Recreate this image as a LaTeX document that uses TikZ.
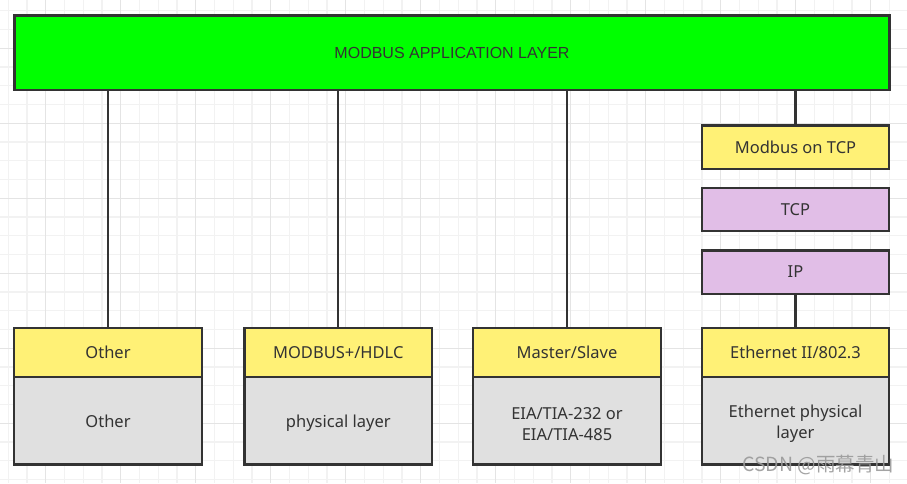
\documentclass[tikz,border=0pt]{standalone}
\usepackage{fontspec}
\setmainfont{Noto Sans}
\newfontfamily\arialf{Liberation Sans}
\newfontfamily\cjk{Noto Sans CJK SC}
\definecolor{ink}{HTML}{333333}
\definecolor{barGreen}{HTML}{00FF00}
\definecolor{layerYellow}{HTML}{FFF176}
\definecolor{layerPurple}{HTML}{E1BEE7}
\definecolor{layerGray}{HTML}{E0E0E0}
\definecolor{gridMinor}{HTML}{F2F2F2}
\definecolor{gridMajor}{HTML}{E4E4E4}
\definecolor{wmGray}{HTML}{9A9A9A}
\begin{document}
\begin{tikzpicture}[x=1pt,y=-1pt,
  box/.style={draw=ink, line width=2.3pt, text=ink, inner sep=0pt,
    minimum width=187.5pt, align=center,
    font=\fontsize{16.5}{21}\selectfont},
  hdr/.style={box, fill=layerYellow, minimum height=49.4pt},
  body/.style={box, fill=layerGray, minimum height=87.3pt},
  bodytext/.style={text=ink, inner sep=0pt, align=center,
    font=\fontsize{16.5}{21}\selectfont},
  stackbox/.style={box, minimum height=43.3pt},
  link/.style={draw=ink, line width=2.3pt},
  gminor/.style={draw=gridMinor, line width=1.2pt},
  gmajor/.style={draw=gridMajor, line width=1.2pt}]
\useasboundingbox (0,0) rectangle (907,483);
\fill[white] (0,0) rectangle (907,483);
% grid
\foreach \i in {0,...,48} {\draw[gminor] ({8.2+18.75*\i},0) -- ({8.2+18.75*\i},483);}
\foreach \i in {0,...,25} {\draw[gminor] (0,{10.8+18.75*\i}) -- (907,{10.8+18.75*\i});}
\foreach \i in {0,...,11} {\draw[gmajor] ({45.7+75*\i},0) -- ({45.7+75*\i},483);}
\foreach \i in {0,...,5} {\draw[gmajor] (0,{48.3+75*\i}) -- (907,{48.3+75*\i});}
% application layer
\node[box, fill=barGreen, minimum width=875pt, minimum height=74.8pt,
  font=\arialf\fontsize{16}{20}\selectfont] (app) at (452,52.9) {MODBUS APPLICATION LAYER};
% TCP stack
\node[stackbox, fill=layerYellow] (mtcp) at (795.5,147.2) {Modbus on TCP};
\node[stackbox, fill=layerPurple] (tcp) at (795.5,209.5) {TCP};
\node[stackbox, fill=layerPurple] (ip) at (795.5,272) {IP};
% bottom columns
\node[body] (b1) at (108,420.85) {};
\node[bodytext] (t1) at (b1.center) {Other};
\node[hdr] (h1) at (108,352.5) {Other};
\node[body] (b2) at (338.3,420.85) {};
\node[bodytext, yshift=-2pt] (t2) at (b2.center) {physical layer};
\node[hdr] (h2) at (338.3,352.5) {MODBUS+/HDLC};
\node[body] (b3) at (567,420.85) {};
\node[bodytext, yshift=-3pt] (t3) at (b3.center) {EIA/TIA-232 or\\EIA/TIA-485};
\node[hdr] (h3) at (567,352.5) {Master/Slave};
\node[body] (b4) at (795.5,420.85) {};
\node[bodytext, yshift=-3pt] (t4) at (b4.center) {Ethernet physical\\layer};
\node[hdr] (h4) at (795.5,352.5) {Ethernet II/802.3};
% connectors
\draw[link] (app.south -| h1.north) -- (h1.north);
\draw[link] (app.south -| h2.north) -- (h2.north);
\draw[link] (app.south -| h3.north) -- (h3.north);
\draw[link] (app.south -| mtcp.north) -- (mtcp.north);
\draw[link] (ip.south) -- (h4.north);
% watermark
\node[anchor=base west, inner sep=0pt, text=wmGray, opacity=0.9,
  font=\cjk\fontsize{19.5}{20}\selectfont] (wm) at (742,471) {CSDN @雨幕青山};
\end{tikzpicture}
\end{document}
